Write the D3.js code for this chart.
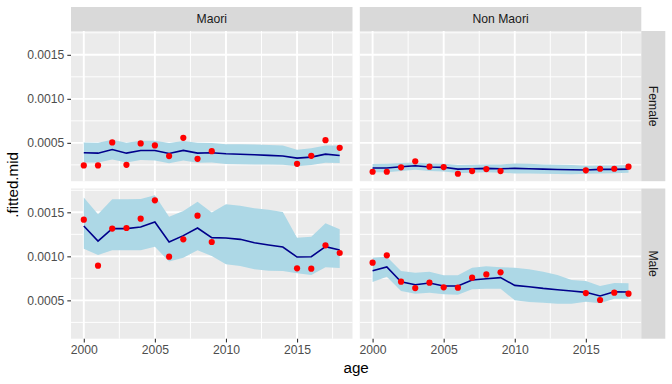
<!DOCTYPE html>
<html><head><meta charset="utf-8">
<script src="https://cdn.jsdelivr.net/npm/d3@7"></script>
<style>body{margin:0;background:#fff}svg{display:block;font-family:"Liberation Sans",Arial,sans-serif}</style>
</head><body><svg id="c" width="672" height="384"></svg>
<script>
const years = [2000,2001,2002,2003,2004,2005,2006,2007,2008,2009,2010,2011,2012,2013,2014,2015,2016,2017,2018];
const obsYears = [2000,2001,2002,2003,2004,2005,2006,2007,2008,2009,2015,2016,2017,2018];
const ethnicities = ["Maori","Non Maori"];
const sexes = ["Female","Male"];
const xTicks = [2000,2005,2010,2015];
const yTicks = [0.0005,0.0010,0.0015];

const maoriFemaleFit = [0.000387,0.000383,0.000425,0.000383,0.000414,0.000414,0.000380,0.000414,0.000383,0.000387,0.000376,0.000370,0.000365,0.000358,0.000350,0.000327,0.000338,0.000372,0.000357];
const maoriFemaleUpper = [0.000505,0.000500,0.000534,0.000500,0.000523,0.000523,0.000497,0.000520,0.000500,0.000497,0.000485,0.000483,0.000481,0.000476,0.000470,0.000421,0.000440,0.000470,0.000470];
const maoriFemaleLower = [0.000278,0.000278,0.000312,0.000278,0.000305,0.000301,0.000267,0.000301,0.000274,0.000278,0.000259,0.000257,0.000255,0.000254,0.000252,0.000233,0.000248,0.000274,0.000270];
const maoriFemaleObs = [0.000244,0.000244,0.000505,0.000251,0.000493,0.000471,0.000350,0.000557,0.000319,0.000406,0.000262,0.000353,0.000530,0.000443];

const nonMaoriFemaleFit = [0.000214,0.000214,0.000229,0.000240,0.000225,0.000222,0.000202,0.000206,0.000210,0.000206,0.000210,0.000206,0.000202,0.000198,0.000195,0.000191,0.000199,0.000199,0.000202];
const nonMaoriFemaleUpper = [0.000259,0.000262,0.000270,0.000278,0.000266,0.000263,0.000248,0.000252,0.000255,0.000255,0.000266,0.000262,0.000255,0.000251,0.000248,0.000240,0.000244,0.000244,0.000248];
const nonMaoriFemaleLower = [0.000165,0.000166,0.000180,0.000195,0.000180,0.000176,0.000157,0.000160,0.000165,0.000160,0.000153,0.000151,0.000149,0.000146,0.000142,0.000149,0.000153,0.000155,0.000160];
const nonMaoriFemaleObs = [0.000172,0.000172,0.000222,0.000290,0.000229,0.000225,0.000149,0.000180,0.000202,0.000180,0.000188,0.000206,0.000206,0.000229];

const maoriMaleFit = [0.001345,0.001174,0.001315,0.001315,0.001333,0.001390,0.001163,0.001235,0.001322,0.001212,0.001208,0.001193,0.001155,0.001129,0.001106,0.000992,0.000996,0.001110,0.001072];
const maoriMaleUpper = [0.001667,0.001477,0.001648,0.001648,0.001650,0.001693,0.001451,0.001515,0.001621,0.001497,0.001591,0.001575,0.001545,0.001530,0.001504,0.001212,0.001223,0.001375,0.001307];
const maoriMaleLower = [0.001087,0.001015,0.001068,0.001068,0.001068,0.001110,0.000940,0.000985,0.001068,0.001004,0.000909,0.000890,0.000852,0.000835,0.000833,0.000807,0.000788,0.000875,0.000867];
const maoriMaleObs = [0.001417,0.000894,0.001315,0.001322,0.001428,0.001636,0.000996,0.001193,0.001462,0.001163,0.000864,0.000860,0.001125,0.001038];

const nonMaoriMaleFit = [0.000837,0.000879,0.000712,0.000678,0.000697,0.000663,0.000663,0.000731,0.000746,0.000758,0.000670,0.000655,0.000636,0.000621,0.000606,0.000591,0.000549,0.000598,0.000595];
const nonMaoriMaleUpper = [0.000985,0.000996,0.000833,0.000814,0.000826,0.000784,0.000784,0.000871,0.000886,0.000875,0.000871,0.000852,0.000826,0.000788,0.000731,0.000720,0.000663,0.000697,0.000693];
const nonMaoriMaleLower = [0.000708,0.000769,0.000606,0.000576,0.000587,0.000568,0.000565,0.000625,0.000633,0.000633,0.000500,0.000481,0.000473,0.000462,0.000462,0.000485,0.000466,0.000519,0.000519];
const nonMaoriMaleObs = [0.000928,0.001011,0.000712,0.000640,0.000701,0.000648,0.000644,0.000758,0.000795,0.000818,0.000583,0.000504,0.000587,0.000576];

const panels = [
  {eth:"Maori", sex:"Female", fit:maoriFemaleFit, up:maoriFemaleUpper, lo:maoriFemaleLower, obs:maoriFemaleObs},
  {eth:"Non Maori", sex:"Female", fit:nonMaoriFemaleFit, up:nonMaoriFemaleUpper, lo:nonMaoriFemaleLower, obs:nonMaoriFemaleObs},
  {eth:"Maori", sex:"Male", fit:maoriMaleFit, up:maoriMaleUpper, lo:maoriMaleLower, obs:maoriMaleObs},
  {eth:"Non Maori", sex:"Male", fit:nonMaoriMaleFit, up:nonMaoriMaleUpper, lo:nonMaoriMaleLower, obs:nonMaoriMaleObs}
];

// layout
const left = 71, panelW = 281.5, gapX = 7.3;
const stripTop = 7, stripH = 24, panelTop = stripTop + stripH, panelH = 150.2, gapY = 7.3;
const rStripW = 24;

const svg = d3.select("#c");
const allVals = panels.flatMap(p => [...p.fit, ...p.up, ...p.lo, ...p.obs]);
const yMin = d3.min(allVals), yMax = d3.max(allVals), yPad = (yMax - yMin) * 0.05;
const xMin = d3.min(years), xMax = d3.max(years), xPad = (xMax - xMin) * 0.05;

const xScale = col => d3.scaleLinear().domain([xMin - xPad, xMax + xPad]).range([left + col*(panelW+gapX), left + col*(panelW+gapX) + panelW]);
const yScale = row => d3.scaleLinear().domain([yMin - yPad, yMax + yPad]).range([panelTop + row*(panelH+gapY) + panelH, panelTop + row*(panelH+gapY)]);

const FONT_SMALL = 12.2, FONT_TITLE = 15.2;

panels.forEach(p => {
  const col = ethnicities.indexOf(p.eth), row = sexes.indexOf(p.sex);
  const x = xScale(col), y = yScale(row);
  const g = svg.append("g");
  const [x1, x2] = x.range(), [y2, y1] = y.range();
  g.append("rect").attr("x", x1).attr("y", y1).attr("width", x2-x1).attr("height", y2-y1).attr("fill", "#EBEBEB");
  const xMinor = [2002.5, 2007.5, 2012.5, 2017.5];
  const yMinor = [0.00025, 0.00075, 0.00125, 0.00175].filter(v => v >= y.domain()[0] && v <= y.domain()[1]);
  xMinor.forEach(v => g.append("line").attr("x1", x(v)).attr("x2", x(v)).attr("y1", y1).attr("y2", y2).attr("stroke", "#fff").attr("stroke-width", 0.95));
  yMinor.forEach(v => g.append("line").attr("x1", x1).attr("x2", x2).attr("y1", y(v)).attr("y2", y(v)).attr("stroke", "#fff").attr("stroke-width", 0.95));
  xTicks.forEach(v => g.append("line").attr("x1", x(v)).attr("x2", x(v)).attr("y1", y1).attr("y2", y2).attr("stroke", "#fff").attr("stroke-width", 1.9));
  yTicks.forEach(v => g.append("line").attr("x1", x1).attr("x2", x2).attr("y1", y(v)).attr("y2", y(v)).attr("stroke", "#fff").attr("stroke-width", 1.9));

  const rows = years.map((yr, i) => ({yr, fit: p.fit[i], up: p.up[i], lo: p.lo[i]}));
  g.append("path").datum(rows)
    .attr("d", d3.area().x(d => x(d.yr)).y0(d => y(d.lo)).y1(d => y(d.up)))
    .attr("fill", "#ADD8E6");
  g.append("path").datum(rows)
    .attr("d", d3.line().x(d => x(d.yr)).y(d => y(d.fit)))
    .attr("fill", "none").attr("stroke", "#00008B").attr("stroke-width", 1.6);
  g.selectAll("circle.pt").data(obsYears.map((yr, i) => ({yr, v: p.obs[i]}))).join("circle")
    .attr("cx", d => x(d.yr)).attr("cy", d => y(d.v)).attr("r", 3.1).attr("fill", "#FF0000");

  if (row === 0) {
    svg.append("rect").attr("x", x1).attr("y", stripTop).attr("width", x2-x1).attr("height", stripH).attr("fill", "#D9D9D9");
    svg.append("text").attr("x", (x1+x2)/2).attr("y", stripTop + stripH/2).attr("dy", "0.35em")
      .attr("text-anchor", "middle").attr("font-size", FONT_SMALL).attr("fill", "#1A1A1A").text(p.eth);
  }
  if (col === 1) {
    svg.append("rect").attr("x", x2).attr("y", y1).attr("width", rStripW).attr("height", y2-y1).attr("fill", "#D9D9D9");
    svg.append("text").attr("transform", `translate(${x2 + rStripW/2},${(y1+y2)/2}) rotate(90)`).attr("dy", "0.35em")
      .attr("text-anchor", "middle").attr("font-size", FONT_SMALL).attr("fill", "#1A1A1A").text(p.sex);
  }
  if (col === 0) {
    const ax = svg.append("g").attr("transform", `translate(${x1},0)`)
      .call(d3.axisLeft(y).tickValues(yTicks).tickFormat(d3.format(".4f")).tickSize(3.7).tickPadding(2.9));
    ax.select(".domain").remove();
    ax.selectAll("line").attr("stroke", "#333333").attr("stroke-width", 1.1);
    ax.selectAll("text").attr("fill", "#4D4D4D").attr("font-size", FONT_SMALL).attr("font-family", null);
  }
  if (row === 1) {
    const ax = svg.append("g").attr("transform", `translate(0,${y2})`)
      .call(d3.axisBottom(x).tickValues(xTicks).tickFormat(d3.format("d")).tickSize(3.7).tickPadding(2.9));
    ax.select(".domain").remove();
    ax.selectAll("line").attr("stroke", "#333333").attr("stroke-width", 1.1);
    ax.selectAll("text").attr("fill", "#4D4D4D").attr("font-size", FONT_SMALL).attr("font-family", null);
  }
});

const plotL = left, plotR = left + 2*panelW + gapX;
const plotT = panelTop, plotB = panelTop + 2*panelH + gapY;
svg.append("text").attr("x", (plotL+plotR)/2).attr("y", 373).attr("text-anchor", "middle")
  .attr("font-size", FONT_TITLE).attr("fill", "#000").text("age");
svg.append("text").attr("transform", `translate(13,${(plotT+plotB)/2}) rotate(-90)`).attr("dy", "0.35em")
  .attr("text-anchor", "middle").attr("font-size", FONT_TITLE).attr("fill", "#000").text(".fitted.mid");
</script></body></html>
